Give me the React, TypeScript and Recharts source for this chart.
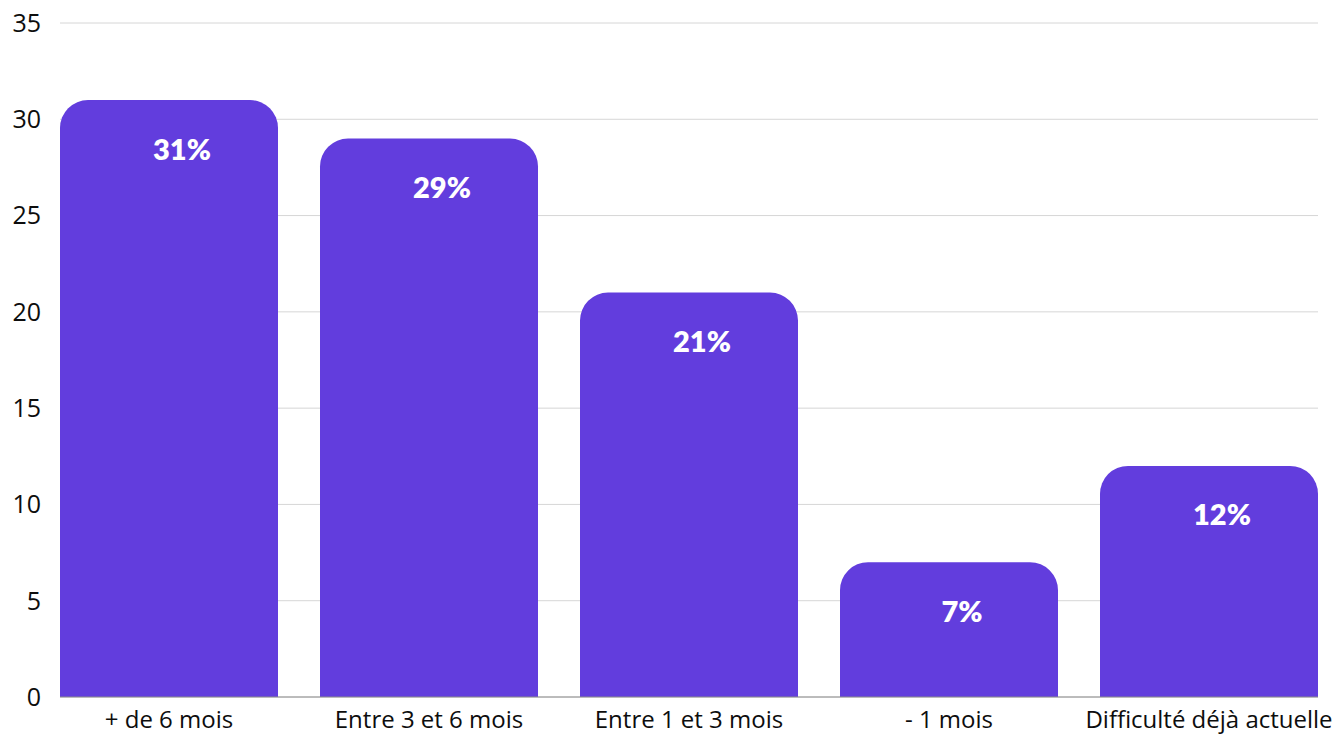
import { BarChart, Bar, XAxis, YAxis, CartesianGrid, LabelList } from "recharts";

const categories = ["+ de 6 mois", "Entre 3 et 6 mois", "Entre 1 et 3 mois", "- 1 mois", "Difficulté déjà actuelle"];
const values = [31, 29, 21, 7, 12];
const yTicks = [0, 5, 10, 15, 20, 25, 30, 35];

const data = categories.map((name, i) => ({ name, value: values[i] }));

const AXIS_FONT = "'Open Sans', sans-serif";
const LABEL_FONT = "Lato, 'Open Sans', sans-serif";
const PURPLE = "#623ddd";

// label sits a bit under the rounded top, nudged right like in the original
function PctLabel(props: any) {
  const { x, y, width, value } = props;
  return (
    <text
      x={x + width / 2 + 13}
      y={y + 48}
      textAnchor="middle"
      dominantBaseline="central"
      fill="#ffffff"
      fontFamily={LABEL_FONT}
      fontWeight={800}
      fontSize={29}
    >
      {value}%
    </text>
  );
}

export default function App() {
  return (
    <div style={{ position: "absolute", left: 0, top: 0, background: "#fff", fontFamily: AXIS_FONT }}>
      <BarChart
        width={1341}
        height={735}
        data={data}
        margin={{ top: 23, right: 23, left: 0, bottom: 0 }}
        barCategoryGap={21}
      >
        <CartesianGrid vertical={false} stroke="#d6d6d6" />
        <XAxis
          dataKey="name"
          height={38}
          padding={{ left: -21, right: -21 }}
          tickLine={false}
          tickSize={0}
          axisLine={{ stroke: "#8c8c8c" }}
          tickMargin={14}
          interval={0}
          tick={{ fill: "#0d0d0d", fontSize: 24, fontFamily: AXIS_FONT }}
        />
        <YAxis
          width={60}
          domain={[0, 35]}
          ticks={yTicks}
          tickLine={false}
          axisLine={false}
          tickSize={0}
          tickMargin={19}
          tick={{ fill: "#0d0d0d", fontSize: 25, fontFamily: AXIS_FONT }}
        />
        <Bar dataKey="value" fill={PURPLE} radius={[28, 28, 0, 0]} isAnimationActive={false}>
          <LabelList dataKey="value" content={PctLabel} />
        </Bar>
      </BarChart>
    </div>
  );
}
